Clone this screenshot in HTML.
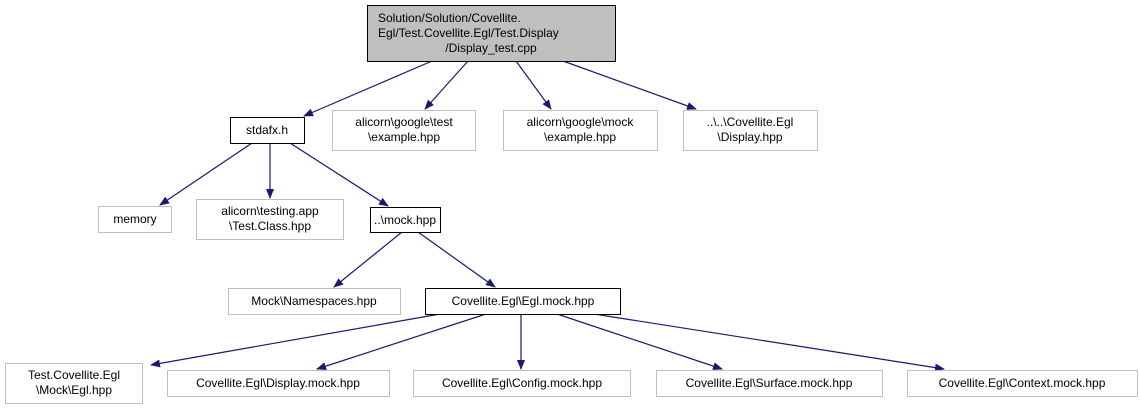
<!DOCTYPE html>
<html><head><meta charset="utf-8"><style>
html,body{margin:0;padding:0;background:#fff;width:1140px;height:409px;overflow:hidden}
text{font-family:"Liberation Sans",sans-serif;font-size:12px;fill:#000}
</style></head><body>
<svg width="1140" height="409" viewBox="0 0 1140 409" xmlns="http://www.w3.org/2000/svg">
<defs><marker id="a" markerWidth="10" markerHeight="8" refX="9" refY="4" orient="auto" markerUnits="userSpaceOnUse"><path d="M0,0 L10,4 L0,8 z" fill="#191970"/></marker></defs>
<g stroke="#191970" stroke-width="1.2" fill="none" marker-end="url(#a)">
<line x1="432" y1="61" x2="304" y2="116"/>
<line x1="468" y1="61" x2="425" y2="109"/>
<line x1="516" y1="61" x2="551" y2="109"/>
<line x1="563" y1="61" x2="696" y2="109"/>
<line x1="252" y1="143" x2="160" y2="205"/>
<line x1="270" y1="143" x2="270" y2="198"/>
<line x1="290" y1="143" x2="388" y2="206"/>
<line x1="402" y1="232" x2="334" y2="287"/>
<line x1="418" y1="232" x2="495" y2="287"/>
<line x1="440" y1="314" x2="151" y2="365"/>
<line x1="486" y1="314" x2="317" y2="369"/>
<line x1="521" y1="314" x2="521" y2="369"/>
<line x1="557" y1="314" x2="722" y2="369"/>
<line x1="594" y1="314" x2="944" y2="369"/>
</g>
<g stroke-width="1">
<rect x="367.5" y="5.5" width="248" height="56" fill="#bfbfbf" stroke="#000"/>
<rect x="230.5" y="117.5" width="74" height="26" fill="#fff" stroke="#000"/>
<rect x="370.5" y="207.5" width="70" height="25" fill="#fff" stroke="#000"/>
<rect x="425.5" y="288.5" width="195" height="26" fill="#fff" stroke="#000"/>
<g fill="#fff" stroke="#bfbfbf">
<rect x="332.5" y="110.5" width="143" height="40"/>
<rect x="503.5" y="110.5" width="154" height="40"/>
<rect x="683.5" y="110.5" width="134" height="40"/>
<rect x="98.5" y="206.5" width="73" height="26"/>
<rect x="196.5" y="199.5" width="147" height="40"/>
<rect x="228.5" y="288.5" width="172" height="26"/>
<rect x="5.5" y="363.5" width="137" height="40"/>
<rect x="167.5" y="370.5" width="222" height="26"/>
<rect x="413.5" y="370.5" width="217" height="26"/>
<rect x="656.5" y="370.5" width="226" height="26"/>
<rect x="907.5" y="370.5" width="230" height="26"/>
</g></g>
<g text-anchor="middle">
<text x="378" y="22" text-anchor="start">Solution/Solution/Covellite.</text>
<text x="378" y="37" text-anchor="start">Egl/Test.Covellite.Egl/Test.Display</text>
<text x="491" y="52">/Display_test.cpp</text>
<text x="267" y="134">stdafx.h</text>
<text x="404" y="126">alicorn\google\test</text>
<text x="404" y="141">\example.hpp</text>
<text x="580" y="126">alicorn\google\mock</text>
<text x="580" y="141">\example.hpp</text>
<text x="750" y="126">..\..\Covellite.Egl</text>
<text x="750" y="141">\Display.hpp</text>
<text x="135" y="223">memory</text>
<text x="270" y="215">alicorn\testing.app</text>
<text x="270" y="230">\Test.Class.hpp</text>
<text x="405" y="224">..\mock.hpp</text>
<text x="314" y="305">Mock\Namespaces.hpp</text>
<text x="523" y="305">Covellite.Egl\Egl.mock.hpp</text>
<text x="74" y="379">Test.Covellite.Egl</text>
<text x="74" y="394">\Mock\Egl.hpp</text>
<text x="278" y="387">Covellite.Egl\Display.mock.hpp</text>
<text x="522" y="387">Covellite.Egl\Config.mock.hpp</text>
<text x="769" y="387">Covellite.Egl\Surface.mock.hpp</text>
<text x="1022" y="387">Covellite.Egl\Context.mock.hpp</text>
</g>
</svg>
</body></html>
